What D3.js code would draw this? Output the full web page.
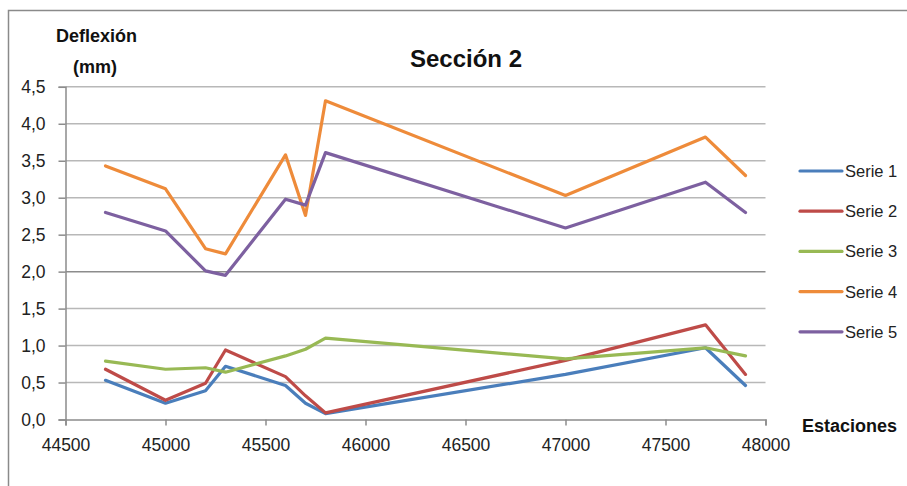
<!DOCTYPE html>
<html>
<head>
<meta charset="utf-8">
<script src="https://cdn.jsdelivr.net/npm/d3@7"></script>
<style>
  html, body { margin: 0; padding: 0; background: #fff; }
  svg { display: block; font-family: "Liberation Sans", Arial, sans-serif; }
</style>
</head>
<body>
<svg id="chart" width="907" height="486"></svg>
<script>
// Stations (x) shared by every series
const estaciones = [44700, 45000, 45200, 45300, 45600, 45700, 45800, 47000, 47700, 47900];

// Deflection per series, in mm
const serie1 = [0.53, 0.22, 0.39, 0.72, 0.46, 0.22, 0.08, 0.61, 0.97, 0.46];
const serie2 = [0.68, 0.26, 0.49, 0.94, 0.58, 0.32, 0.09, 0.80, 1.28, 0.61];
const serie3 = [0.79, 0.68, 0.70, 0.64, 0.86, 0.95, 1.10, 0.82, 0.97, 0.86];
const serie4 = [3.43, 3.12, 2.31, 2.24, 3.58, 2.76, 4.31, 3.03, 3.82, 3.30];
const serie5 = [2.80, 2.55, 2.01, 1.95, 2.98, 2.90, 3.61, 2.59, 3.21, 2.80];

const seriesNames = ["Serie 1", "Serie 2", "Serie 3", "Serie 4", "Serie 5"];
const seriesColors = ["#4A7EBB", "#BE4B48", "#98B954", "#EE8B3A", "#7D60A0"];

const xTicks = [44500, 45000, 45500, 46000, 46500, 47000, 47500, 48000];
const yTicks = [0, 0.5, 1, 1.5, 2, 2.5, 3, 3.5, 4, 4.5];

const titulo = "Sección 2";
const tituloY = ["Deflexión", "(mm)"];
const tituloX = "Estaciones";

const allSeries = [serie1, serie2, serie3, serie4, serie5];

const svg = d3.select("#chart");

// Outer chart frame
svg.append("rect")
  .attr("x", 8.5).attr("y", 10.5)
  .attr("width", 1000).attr("height", 1000)
  .attr("fill", "none").attr("stroke", "#8a8a8a").attr("stroke-width", 1.5);

const x = d3.scaleLinear().domain([44500, 48000]).range([65.5, 765.5]);
const y = d3.scaleLinear().domain([0, 4.5]).range([419.5, 86.8]);

const fmtY = v => d3.format(".1f")(v).replace(".", ",");

// Horizontal gridlines
svg.append("g")
  .selectAll("line")
  .data(yTicks.filter(v => v > 0))
  .join("line")
  .attr("x1", x(44500)).attr("x2", x(48000))
  .attr("y1", d => y(d)).attr("y2", d => y(d))
  .attr("stroke", d => d === 2 ? "#8c8c8c" : "#b8b8b8")
  .attr("stroke-width", 1.5);

// Y axis
const yAxis = svg.append("g")
  .attr("transform", `translate(${x(44500)},0)`)
  .call(d3.axisLeft(y).tickValues(yTicks).tickFormat(fmtY).tickSize(7).tickPadding(13));
yAxis.select(".domain").attr("stroke", "#8c8c8c").attr("stroke-width", 1.5);
yAxis.selectAll(".tick line").attr("stroke", "#8c8c8c").attr("stroke-width", 1.5);
yAxis.selectAll(".tick text").attr("font-size", 17.5).attr("fill", "#222")
  .attr("font-family", "Liberation Sans, Arial, sans-serif");

// X axis
const xAxis = svg.append("g")
  .attr("transform", `translate(0,${y(0)})`)
  .call(d3.axisBottom(x).tickValues(xTicks).tickFormat(d3.format("d")).tickSize(6).tickPadding(13));
xAxis.select(".domain").attr("stroke", "#8c8c8c").attr("stroke-width", 1.5);
xAxis.selectAll(".tick line").attr("stroke", "#8c8c8c").attr("stroke-width", 1.5);
xAxis.selectAll(".tick text").attr("font-size", 17.5).attr("fill", "#222")
  .attr("font-family", "Liberation Sans, Arial, sans-serif");

// Series lines
const line = d3.line()
  .x((d, i) => x(estaciones[i]))
  .y(d => y(d));

svg.append("g")
  .selectAll("path")
  .data(allSeries)
  .join("path")
  .attr("d", d => line(d))
  .attr("fill", "none")
  .attr("stroke", (d, i) => seriesColors[i])
  .attr("stroke-width", 3.2)
  .attr("stroke-linejoin", "round")
  .attr("stroke-linecap", "round");

// Legend
const legend = svg.append("g")
  .selectAll("g")
  .data(seriesNames)
  .join("g")
  .attr("transform", (d, i) => `translate(800,${171 + i * 40.2})`);
legend.append("line")
  .attr("x1", 0).attr("x2", 42).attr("y1", 0).attr("y2", 0)
  .attr("stroke", (d, i) => seriesColors[i])
  .attr("stroke-width", 3.2).attr("stroke-linecap", "round");
legend.append("text")
  .attr("x", 45).attr("y", 6)
  .attr("font-size", 16.5).attr("fill", "#222")
  .text(d => d);

// Titles
svg.append("text")
  .attr("x", 466).attr("y", 67)
  .attr("text-anchor", "middle")
  .attr("font-size", 24).attr("font-weight", "bold").attr("fill", "#111")
  .text(titulo);

svg.append("text")
  .attr("x", 56).attr("y", 42)
  .attr("font-size", 18).attr("font-weight", "bold").attr("fill", "#111")
  .text(tituloY[0]);
svg.append("text")
  .attr("x", 73).attr("y", 73)
  .attr("font-size", 18).attr("font-weight", "bold").attr("fill", "#111")
  .text(tituloY[1]);

svg.append("text")
  .attr("x", 802).attr("y", 432)
  .attr("font-size", 18).attr("font-weight", "bold").attr("fill", "#111")
  .text(tituloX);
</script>
</body>
</html>
